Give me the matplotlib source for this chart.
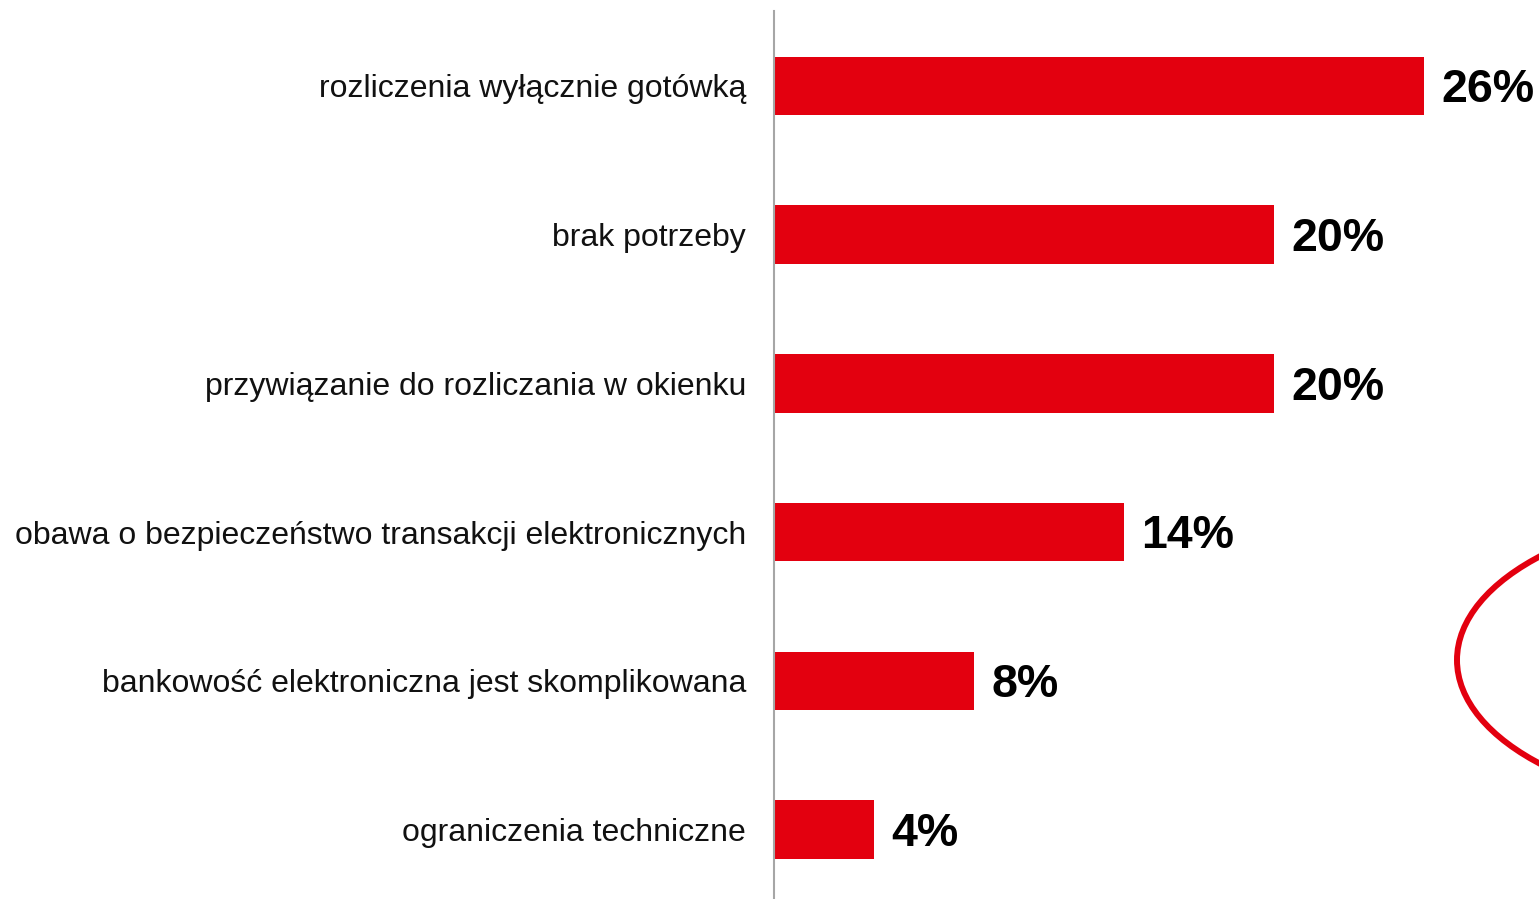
import matplotlib
matplotlib.use('Agg')
import matplotlib.pyplot as plt
from matplotlib.patches import Ellipse

plt.rcParams['font.family'] = ['Liberation Sans', 'DejaVu Sans']

# ---------- dane ----------
categories = [
    'rozliczenia wyłącznie gotówką',
    'brak potrzeby',
    'przywiązanie do rozliczania w okienku',
    'obawa o bezpieczeństwo transakcji elektronicznych',
    'bankowość elektroniczna jest skomplikowana',
    'ograniczenia techniczne',
]
values = [26, 20, 20, 14, 8, 4]
value_labels = ['26%', '20%', '20%', '14%', '8%', '4%']

red = '#E3000F'

# ---------- wykres ----------
fig = plt.figure(figsize=(15.39, 8.99), dpi=100)
ax = fig.add_axes([774 / 1539, 0, 765 / 1539, 888 / 899])

y = list(range(len(categories)))
ax.barh(y, values, height=0.393, color=red, zorder=2)

# etykiety wartości (lekko w dół, żeby cyfry były na środku słupka)
for yi, v, lab in zip(y, values, value_labels):
    ax.text(v + 0.7, yi + 0.028, lab, ha='left', va='center',
            fontsize=33.5, fontweight='bold', color='black')

ax.set_yticks(y)
ax.set_yticklabels(categories, fontsize=23, color='#111111')
ax.tick_params(axis='y', length=0, pad=20)
ax.set_xticks([])

ax.set_xlim(0, 30.6)
ax.set_ylim(5.467, -0.504)

for s in ['top', 'right', 'bottom']:
    ax.spines[s].set_visible(False)
ax.spines['left'].set_color('#A6A6A6')
ax.spines['left'].set_linewidth(1.5)

# czerwona elipsa przy prawej krawędzi
ell = Ellipse((39.32, 3.86), width=24, height=2.02, fill=False,
              edgecolor=red, linewidth=4.3, clip_on=False)
ax.add_patch(ell)

plt.savefig('out.png', dpi=100)
plt.close()
